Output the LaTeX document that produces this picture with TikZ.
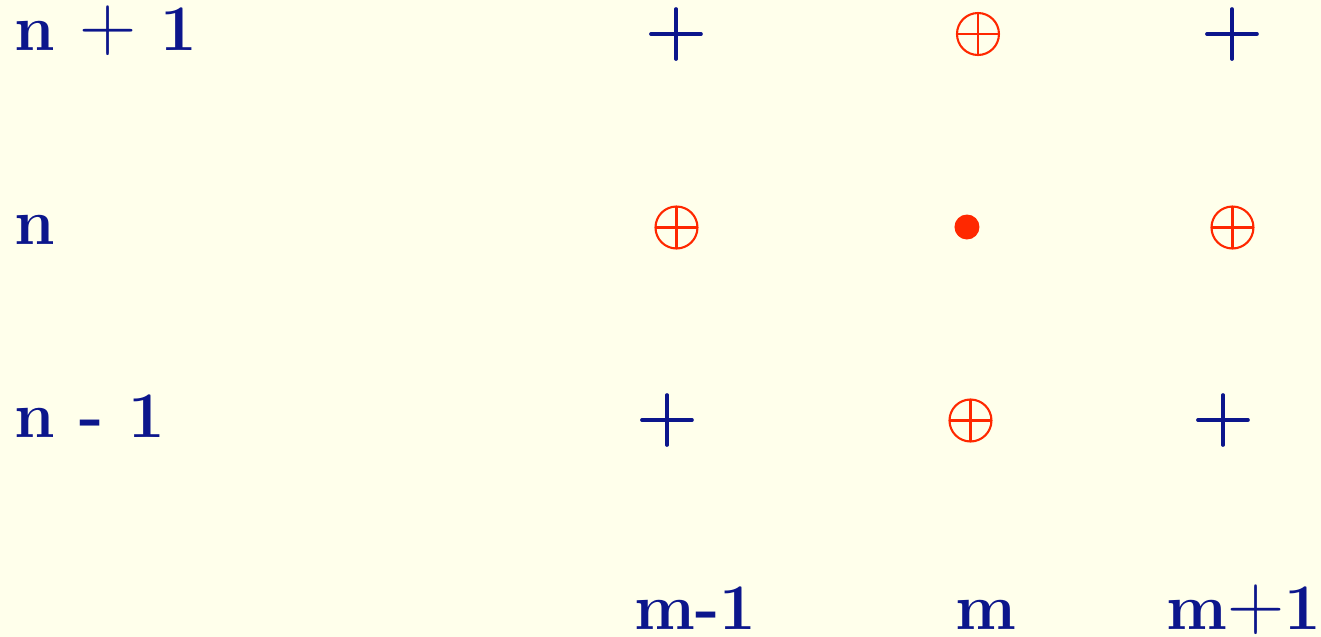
\documentclass[tikz,border=0pt]{standalone}
\usepackage{amsmath,graphicx}
\usetikzlibrary{positioning}

\definecolor{bgyellow}{RGB}{255,255,235}
\definecolor{navyblue}{RGB}{12,22,140}
\definecolor{gridred}{RGB}{255,40,0}

\newcommand{\bigplus}{\scalebox{1.22}{\mdseries+}}

\begin{document}
\begin{tikzpicture}[
    x=0.02cm, y=-0.02cm,
    rowlabel/.style={anchor=base west, inner sep=0pt, text=navyblue, font=\fontsize{37}{44}\selectfont\bfseries},
    bluecross/.style={rectangle, draw=none, minimum size=1.12cm, inner sep=0pt,
        path picture={\draw[navyblue, line width=2.1pt, line cap=round]
            (path picture bounding box.center) ++(-25,0) -- ++(50,0)
            (path picture bounding box.center) ++(0,-25) -- ++(0,50);}},
    redcircle/.style={circle, draw=gridred, line width=1.2pt, minimum size=0.84cm, inner sep=0pt,
        path picture={\draw[gridred, line width=1.2pt]
            (path picture bounding box.west) -- (path picture bounding box.east)
            (path picture bounding box.north) -- (path picture bounding box.south);}},
    reddot/.style={circle, fill=gridred, draw=none, minimum size=0.5cm, inner sep=0pt},
]

    \fill[bgyellow] (0,0) rectangle (1321,637);

    % time levels
    \node (lbl_np1) [rowlabel] at (14,50) {n \bigplus{} 1};
    \node (lbl_n) [rowlabel] at (14,244) {n};
    \node (lbl_nm1) [rowlabel] at (14,437) {n - 1};

    % space points
    \node (lbl_mm1) [rowlabel] at (634,629) {m-1};
    \node (lbl_m) [rowlabel] at (955,629) {m};
    \node (lbl_mp1) [rowlabel] at (1166,629) {m\bigplus1};

    % level n+1
    \node (a1) [bluecross] at (676,34) {};
    \node (a2) [redcircle] at (978,34) {};
    \node (a3) [bluecross] at (1232,34) {};

    % level n
    \node (b1) [redcircle] at (676.5,227.5) {};
    \node (b2) [reddot] at (967,227) {};
    \node (b3) [redcircle] at (1232.5,227.5) {};

    % level n-1
    \node (c1) [bluecross] at (667,420) {};
    \node (c2) [redcircle] at (970.5,420.5) {};
    \node (c3) [bluecross] at (1223,420) {};

\end{tikzpicture}
\end{document}
